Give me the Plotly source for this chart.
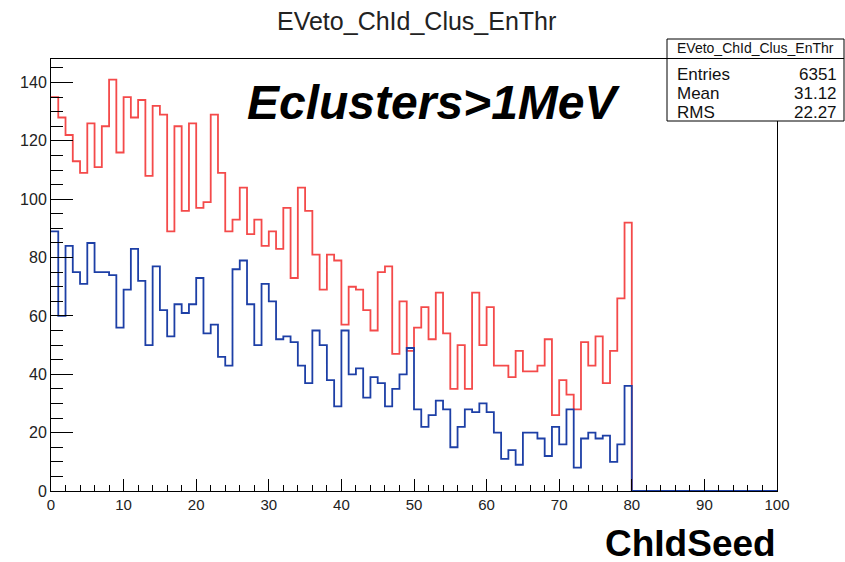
import plotly.graph_objects as go

# ChIdSeed histogram: 100 bins on [0, 100], only channels 0-79 populated
n_bins = 100
x_min, x_max = 0, 100

# Cluster counts per seed channel, all clusters (red)
red_counts = [135, 128, 122, 113, 109, 126, 111, 125, 141, 116,
              135, 128, 134, 108, 132, 129, 89, 125, 96, 126,
              97, 99, 129, 109, 89, 93, 104, 88, 93, 84,
              89, 83, 97, 73, 104, 96, 81, 69, 81, 79,
              57, 70, 69, 62, 55, 75, 77, 47, 65, 48,
              56, 63, 52, 68, 54, 35, 50, 35, 68, 50,
              63, 43, 43, 39, 48, 41, 41, 43, 52, 26,
              38, 33, 28, 51, 43, 53, 37, 48, 66, 92]

# Cluster counts per seed channel, Eclusters > 1 MeV (blue)
blue_counts = [89, 60, 84, 75, 71, 85, 75, 75, 74, 56,
               69, 83, 72, 50, 77, 62, 53, 64, 61, 64,
               73, 54, 57, 46, 43, 76, 79, 64, 50, 71,
               65, 52, 53, 51, 43, 37, 55, 50, 38, 29,
               55, 40, 42, 32, 39, 37, 29, 35, 40, 49,
               28, 22, 26, 31, 28, 15, 22, 28, 27, 30,
               27, 20, 11, 14, 9, 20, 20, 18, 12, 22,
               16, 28, 8, 18, 20, 18, 19, 10, 16, 36]

stats_title = "EVeto_ChId_Clus_EnThr"
stats_labels = ["Entries", "Mean", "RMS"]
stats_values = ["6351", "31.12", "22.27"]

x_ticks = list(range(0, 101, 10))
y_ticks = list(range(0, 141, 20))

# Canvas geometry (pixels)
W, H = 845, 562
L, R, T, B = 51, 777, 59, 491


def px_x(px):
    return (px - L) / (R - L)


def px_y(py):
    return (B - py) / (B - T)


def step_xy(counts):
    vals = list(counts) + [0] * (n_bins - len(counts))
    width = (x_max - x_min) / n_bins
    xs = [x_min + i * width for i in range(n_bins + 1)]
    ys = vals + [vals[-1]]
    return xs, ys


y_top = 1.05 * max(red_counts)

fig = go.Figure()
for counts, color in ((red_counts, "#f44a4a"), (blue_counts, "#1d3fa6")):
    xs, ys = step_xy(counts)
    fig.add_trace(go.Scatter(x=xs, y=ys, mode="lines",
                             line=dict(color=color, width=1.8, shape="hv"),
                             hoverinfo="skip", showlegend=False))

font_family = "Liberation Sans, Arial, Helvetica, sans-serif"

fig.update_layout(
    width=W, height=H,
    margin=dict(l=L, r=W - R, t=T, b=H - B, pad=0),
    paper_bgcolor="white", plot_bgcolor="white",
    font=dict(family=font_family, color="#222"),
    xaxis=dict(range=[x_min, x_max], tickvals=x_ticks, ticks="inside",
               ticklen=12, tickwidth=1, tickcolor="black",
               showline=True, linecolor="black", linewidth=1, mirror=True,
               showgrid=False, zeroline=False,
               tickfont=dict(size=15, color="#222"),
               minor=dict(dtick=2, ticks="inside", ticklen=6,
                          tickcolor="black", tickwidth=1, showgrid=False)),
    yaxis=dict(range=[0, y_top], tickvals=y_ticks, ticks="inside",
               ticklen=22, tickwidth=1, tickcolor="black",
               showline=True, linecolor="black", linewidth=1, mirror=True,
               showgrid=False, zeroline=False,
               tickfont=dict(size=16, color="#222"),
               minor=dict(dtick=5, ticks="inside", ticklen=12,
                          tickcolor="black", tickwidth=1, showgrid=False)),
)

annotations = [
    dict(text=stats_title, x=px_x(416), y=px_y(21), font=dict(size=25, color="#222")),
    dict(text="<b><i>Eclusters>1MeV</i></b>", x=px_x(434), y=px_y(102),
         font=dict(size=48, color="black")),
    dict(text="<b>ChIdSeed</b>", x=px_x(690), y=px_y(543), height=38,
         font=dict(size=37, color="black")),
]
for a in annotations:
    a.update(xref="paper", yref="paper", xanchor="center", yanchor="middle",
             showarrow=False)

# Statistics box
bx0, bx1, by0, by1, bsep = 667, 844, 39, 121, 58.5
fig.add_shape(type="rect", xref="paper", yref="paper",
              x0=px_x(bx0), x1=px_x(bx1), y0=px_y(by1), y1=px_y(by0),
              line=dict(color="black", width=1), fillcolor="white", layer="above")
fig.add_shape(type="line", xref="paper", yref="paper",
              x0=px_x(bx0), x1=px_x(bx1), y0=px_y(bsep), y1=px_y(bsep),
              line=dict(color="black", width=1), layer="above")
annotations.append(dict(text=stats_title, x=px_x((bx0 + bx1) / 2), y=px_y(48.5),
                        xref="paper", yref="paper", xanchor="center",
                        yanchor="middle", showarrow=False,
                        font=dict(size=14, color="#111")))
row_y = [74, 93, 112]
for lab, val, ry in zip(stats_labels, stats_values, row_y):
    annotations.append(dict(text=lab, x=px_x(675), y=px_y(ry), xref="paper",
                            yref="paper", xanchor="left", yanchor="middle",
                            showarrow=False, font=dict(size=17, color="#111")))
    annotations.append(dict(text=val, x=px_x(839), y=px_y(ry), xref="paper",
                            yref="paper", xanchor="right", yanchor="middle",
                            showarrow=False, font=dict(size=17, color="#111")))

fig.update_layout(annotations=annotations)

fig.write_html("out.html")
